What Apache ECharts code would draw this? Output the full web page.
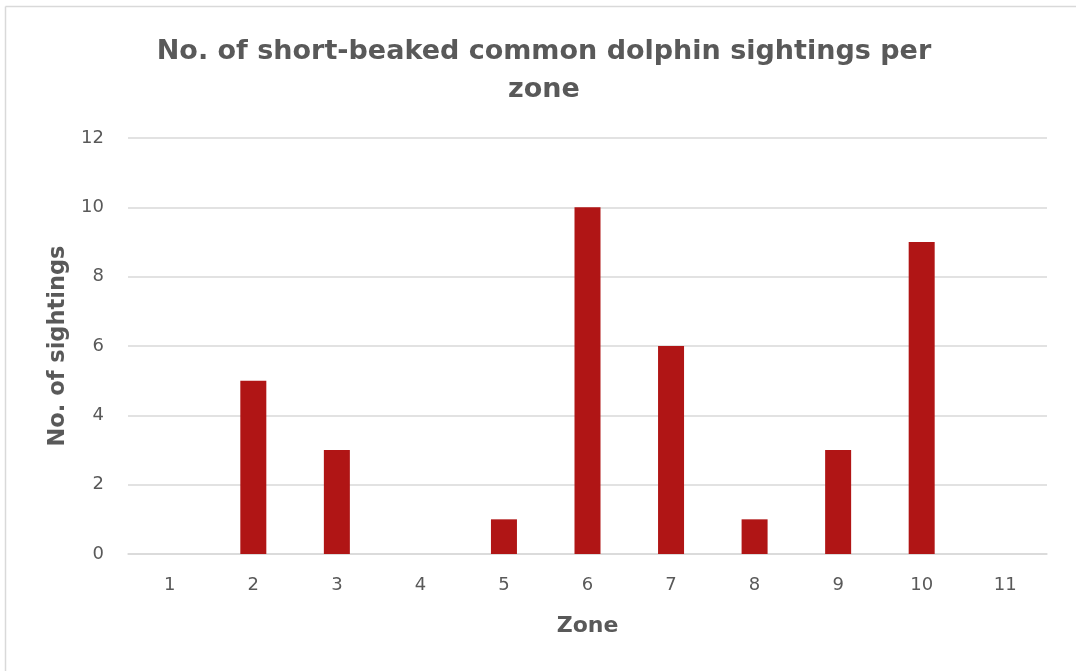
<!DOCTYPE html>
<html>
<head>
<meta charset="utf-8">
<script src="https://cdn.jsdelivr.net/npm/echarts@6/dist/echarts.min.js"></script>
<style>
  html, body { margin: 0; padding: 0; background: #fff; }
  #chart { width: 1076px; height: 671px; }
</style>
</head>
<body>
<div id="chart"></div>
<script>
var zones = ['1', '2', '3', '4', '5', '6', '7', '8', '9', '10', '11'];
var sightings = [0, 5, 3, 0, 1, 10, 6, 1, 3, 9, 0];

var boldFont = '"DejaVu Sans", sans-serif';
var font = '"DejaVu Sans", sans-serif';
var textColor = '#595959';
var frameColor = '#d9d9d9';

var myChart = echarts.init(document.getElementById('chart'));
var option = {
    animation: false,
    graphic: [
        // chart frame, only top and left edges are inside the picture
        {
            type: 'line',
            shape: { x1: 5.5, y1: 6.5, x2: 1076, y2: 6.5 },
            style: { stroke: frameColor, lineWidth: 1.5 },
            silent: true
        },
        {
            type: 'line',
            shape: { x1: 5.5, y1: 6.5, x2: 5.5, y2: 671 },
            style: { stroke: frameColor, lineWidth: 1.5 },
            silent: true
        }
    ],
    title: {
        text: 'No. of short-beaked common dolphin sightings per\nzone',
        left: 539,
        top: 28,
        textAlign: 'center',
        textStyle: {
            fontFamily: boldFont,
            fontSize: 27,
            fontWeight: 'bold',
            color: textColor,
            lineHeight: 38
        }
    },
    grid: {
        left: 128,
        right: 29,
        top: 138,
        bottom: 117,
        containLabel: false
    },
    xAxis: {
        type: 'category',
        data: zones,
        name: 'Zone',
        nameLocation: 'middle',
        nameGap: 61,
        nameTextStyle: {
            fontFamily: boldFont,
            fontSize: 22,
            fontWeight: 'bold',
            color: textColor
        },
        axisLine: { show: true, lineStyle: { color: frameColor, width: 1.5 } },
        axisTick: { show: false },
        axisLabel: {
            fontFamily: font,
            fontSize: 18,
            color: textColor,
            margin: 22
        }
    },
    yAxis: {
        type: 'value',
        min: 0,
        max: 12,
        interval: 2,
        name: 'No. of sightings',
        nameLocation: 'middle',
        nameGap: 58,
        nameTextStyle: {
            fontFamily: boldFont,
            fontSize: 22.5,
            fontWeight: 'bold',
            color: textColor
        },
        axisLine: { show: false },
        axisTick: { show: false },
        axisLabel: {
            fontFamily: font,
            fontSize: 18,
            color: textColor,
            margin: 24
        },
        splitLine: { lineStyle: { color: frameColor, width: 1.5 } }
    },
    series: [
        {
            name: 'Sightings',
            type: 'bar',
            data: sightings,
            barWidth: 26,
            itemStyle: { color: '#b01515' }
        }
    ]
};
myChart.setOption(option);
</script>
</body>
</html>
